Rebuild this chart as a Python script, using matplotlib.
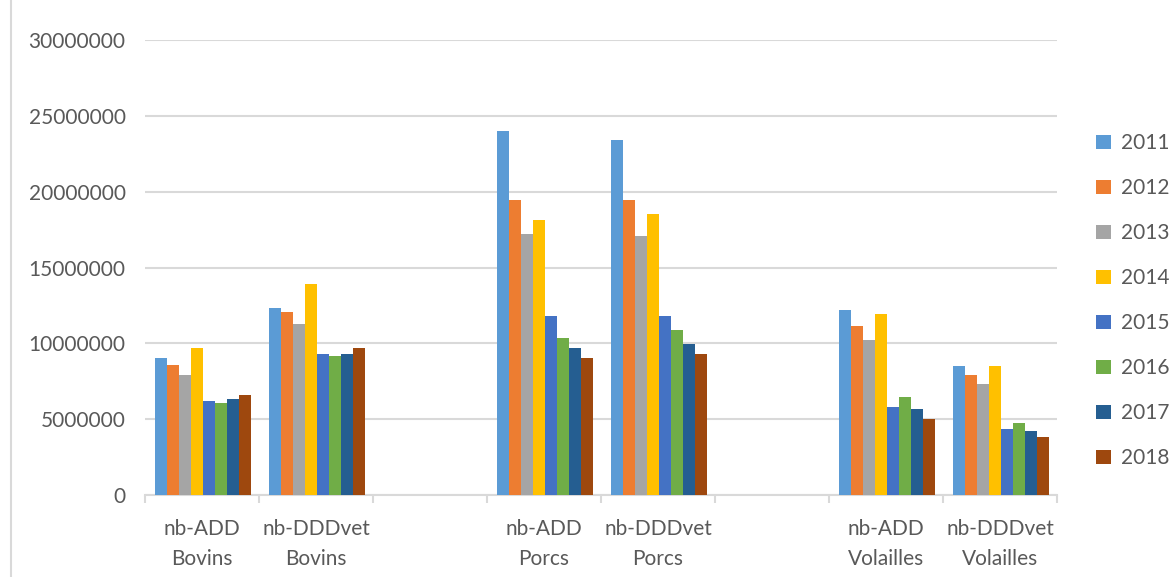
import numpy as np
import matplotlib.pyplot as plt
from matplotlib.lines import Line2D

plt.rcParams['font.family'] = ['Lato', 'DejaVu Sans']

categories = ["nb-ADD\nBovins", "nb-DDDvet\nBovins", "",
              "nb-ADD\nPorcs", "nb-DDDvet\nPorcs", "",
              "nb-ADD\nVolailles", "nb-DDDvet\nVolailles"]
years = ["2011", "2012", "2013", "2014", "2015", "2016", "2017", "2018"]

# values per year, one per category (None for empty slots)
v2011 = [9060000, 12350000, None, 24030000, 23380000, None, 12220000, 8530000]
v2012 = [8550000, 12080000, None, 19450000, 19450000, None, 11160000, 7880000]
v2013 = [7900000, 11300000, None, 17220000, 17090000, None, 10240000, 7350000]
v2014 = [9720000, 13930000, None, 18140000, 18530000, None, 11950000, 8530000]
v2015 = [6180000, 9320000, None, 11820000, 11820000, None, 5790000, 4320000]
v2016 = [6050000, 9190000, None, 10380000, 10900000, None, 6450000, 4720000]
v2017 = [6320000, 9320000, None, 9720000, 9980000, None, 5660000, 4190000]
v2018 = [6580000, 9720000, None, 9060000, 9320000, None, 5000000, 3800000]
series = [v2011, v2012, v2013, v2014, v2015, v2016, v2017, v2018]

colors = ["#5B9BD5", "#ED7D31", "#A5A5A5", "#FFC000",
          "#4472C4", "#70AD47", "#255E91", "#9E480E"]

txt = "#595959"
grid = "#D9D9D9"

fig = plt.figure(figsize=(11.76, 5.77), dpi=100)
ax = fig.add_axes([145 / 1176, 82 / 577, 912 / 1176, 455 / 577])

x = np.arange(len(categories))
w = 0.105
n = len(series)
for i, (vals, c) in enumerate(zip(series, colors)):
    xs = np.array([xi for xi, v in zip(x, vals) if v is not None])
    ys = [v for v in vals if v is not None]
    ax.bar(xs + (i - (n - 1) / 2) * w + 0.01, ys, width=w, color=c,
           label=years[i], zorder=3, linewidth=0)

ax.set_xlim(-0.5, len(categories) - 0.5)
ax.set_ylim(0, 30000000)
ax.set_yticks(np.arange(0, 30000001, 5000000))
ax.set_yticklabels([str(int(t)) for t in np.arange(0, 30000001, 5000000)])
ax.yaxis.grid(True, color=grid, linewidth=1.5, zorder=0)
ax.set_axisbelow(True)

for s in ["top", "right", "left"]:
    ax.spines[s].set_visible(False)
ax.spines["bottom"].set_color(grid)
ax.spines["bottom"].set_linewidth(1.5)

ax.set_xticks(x)
ax.set_xticklabels(categories, linespacing=1.65)
ax.set_xticks(np.arange(-0.5, len(categories)), minor=True)
ax.tick_params(axis="x", which="major", length=0, pad=17, labelsize=15, labelcolor=txt)
ax.tick_params(axis="x", which="minor", length=6, width=1.5, color=grid)
ax.tick_params(axis="y", length=0, pad=14, labelsize=15, labelcolor=txt)

fig.legend(loc="upper left", bbox_to_anchor=(1088 / 1176, 1 - 125 / 577),
           frameon=False, fontsize=15, labelcolor=txt, handlelength=0.7,
           handleheight=0.7, handletextpad=0.5, labelspacing=1.2,
           borderaxespad=0)

# chart border on the left edge
fig.add_artist(Line2D([11 / 1176, 11 / 1176], [0, 1], color=grid, linewidth=1.5))

fig.savefig("out.png", dpi=100)
